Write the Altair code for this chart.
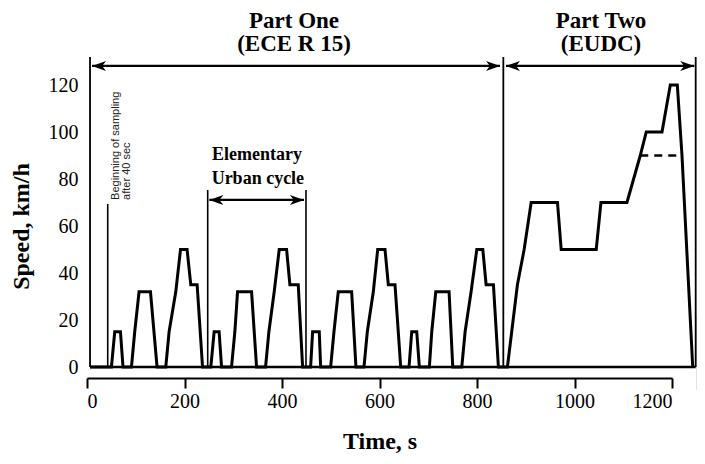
import altair as alt
import pandas as pd

# ---- main speed trace (time in s, speed in km/h) ----
time_s = [6.2, 50.1, 56.9, 68.6, 73.9, 91.2, 97.9, 106.8, 130.2, 143.7, 161.6, 168.4, 182.1, 191.8, 205.3, 212.9, 225.9, 237.0,
          254.0, 260.8, 271.0, 276.0, 296.5, 303.3, 308.8, 337.6, 347.8, 366.3, 373.1, 384.0, 394.3, 409.4, 416.2, 433.3, 442.3,
          458.7, 462.8, 476.4, 479.3, 499.8, 506.6, 515.4, 542.9, 551.7, 568.2, 575.0, 587.3, 596.3, 611.3, 618.1, 631.8, 643.5,
          660.6, 666.1, 676.4, 681.7, 702.3, 707.2, 715.4, 742.7, 750.3, 768.8, 775.6, 787.9, 799.6, 811.9, 818.7, 833.7, 843.9,
          862.4, 882.9, 896.7, 911.1, 965.1, 972.7, 1044.6, 1054.2, 1107.6, 1134.9, 1147.2, 1179.5, 1196.5, 1210.9, 1220.5, 1242.5]
speed_kmh = [0, 0, 15, 15, 0, 0, 15, 32, 32, 0, 0, 15, 32, 50, 50, 35, 35, 0,
             0, 15, 15, 0, 0, 15, 32, 32, 0, 0, 15, 32, 50, 50, 35, 35, 0,
             0, 15, 15, 0, 0, 15, 32, 32, 0, 0, 15, 32, 50, 50, 35, 35, 0,
             0, 15, 15, 0, 0, 15, 32, 32, 0, 0, 15, 32, 50, 50, 35, 35, 0,
             0, 35, 50, 70, 70, 50, 50, 70, 70, 90, 100, 100, 120, 120, 90, 0]

# dashed 90 km/h variant
dash_time = [1134.9, 1220.5]
dash_speed = [90, 90]

# vertical marker lines
vline_time = [6.2, 42.5, 247.6, 449.2, 854.0, 1248.6]
vline_top = [131.9, 69.4, 75.3, 75.3, 131.9, 131.9]
vline_width = [1.8, 1.6, 1.6, 1.6, 1.8, 1.8]

# baseline
base_start = [6.2]
base_end = [1248.6]
base_level = [0]

# double-headed arrows
arrow_start = [10.3, 859.5, 250.9]
arrow_end = [847.2, 1245.7, 445.1]
arrow_level = [128.1, 128.1, 71.1]

# bold annotation texts
head_text = ["Part One", "(ECE R 15)", "Part Two", "(EUDC)"]
head_time = [424.6, 424.6, 1054.4, 1054.4]
head_level = [147.2, 137.4, 147.2, 137.4]

elem_text = ["Elementary", "Urban cycle"]
elem_time = [348.7, 350.5]
elem_level = [90.2, 80.2]

begin_text = ["Beginning of sampling", "after 40 sec"]
begin_time = [59.5, 82.0]
begin_level = [71.1, 71.1]

# cut-off box at the right edge
box_t1 = [1252.7]
box_t2 = [1330.0]
box_v1 = [-9.5]
box_v2 = [21.4]

SERIF = "Liberation Serif"
W, H = 585, 282

xs = alt.Scale(domain=[0, 1200], nice=False, zero=False)
ys = alt.Scale(domain=[0, 120], nice=False, zero=False)
xaxis = alt.Axis(values=[0, 200, 400, 600, 800, 1000, 1200], format="d", offset=11, tickSize=10, tickWidth=2,
                 tickColor="black", domainWidth=2, domainColor="black", labelFont=SERIF,
                 labelFontSize=20, labelColor="black", labelPadding=3, grid=False,
                 title="Time, s", titleFont=SERIF, titleFontSize=24, titleFontWeight="bold",
                 titleColor="black", titlePadding=18)
yaxis = alt.Axis(values=[0, 20, 40, 60, 80, 100, 120], domain=False, ticks=False, tickSize=0,
                 labelPadding=9, labelFont=SERIF, labelFontSize=20, labelColor="black", grid=False,
                 title="Speed, km/h", titleFont=SERIF, titleFontSize=24, titleFontWeight="bold",
                 titleColor="black", titlePadding=15)


def X(f):
    return alt.X(f, type="quantitative", scale=xs, axis=xaxis)


def Y(f):
    return alt.Y(f, type="quantitative", scale=ys, axis=yaxis)


main_df = pd.DataFrame({"t": time_s, "v": speed_kmh})
main = alt.Chart(main_df).mark_line(color="black", strokeWidth=3, strokeJoin="miter", clip=False).encode(
    x=X("t"), y=Y("v"))

dash_df = pd.DataFrame({"t": dash_time, "v": dash_speed})
dash = alt.Chart(dash_df).mark_line(color="black", strokeWidth=2.6, strokeDash=[8, 6]).encode(
    x=X("t"), y=Y("v"))

vl_df = pd.DataFrame({"t": vline_time, "v": [0] * len(vline_time), "v2": vline_top, "w": vline_width})
vlines = alt.Chart(vl_df).mark_rule(color="black").encode(
    x=X("t"), y=Y("v"), y2=alt.Y2("v2"), strokeWidth=alt.StrokeWidth("w:Q", scale=None))

base_df = pd.DataFrame({"t": base_start, "t2": base_end, "v": base_level})
base = alt.Chart(base_df).mark_rule(color="black", strokeWidth=2.6).encode(
    x=X("t"), x2=alt.X2("t2"), y=Y("v"))

ar_df = pd.DataFrame({"t": arrow_start, "t2": arrow_end, "v": arrow_level})
shafts = alt.Chart(ar_df).mark_rule(color="black", strokeWidth=2.2).encode(
    x=X("t"), x2=alt.X2("t2"), y=Y("v"))

RIGHT_HEAD = "M0,0L-2,-0.72L-1.45,0L-2,0.72Z"
LEFT_HEAD = "M0,0L2,-0.72L1.45,0L2,0.72Z"
rheads = alt.Chart(pd.DataFrame({"t": arrow_end, "v": arrow_level})).mark_point(
    shape=RIGHT_HEAD, filled=True, color="black", opacity=1, size=196, strokeWidth=0).encode(
    x=X("t"), y=Y("v"))
lheads = alt.Chart(pd.DataFrame({"t": arrow_start, "v": arrow_level})).mark_point(
    shape=LEFT_HEAD, filled=True, color="black", opacity=1, size=196, strokeWidth=0).encode(
    x=X("t"), y=Y("v"))

heads_txt = alt.Chart(pd.DataFrame({"t": head_time, "v": head_level, "s": head_text})).mark_text(
    font=SERIF, fontSize=23, fontWeight="bold", color="black", align="center", baseline="middle").encode(
    x=X("t"), y=Y("v"), text="s:N")

elem_txt = alt.Chart(pd.DataFrame({"t": elem_time, "v": elem_level, "s": elem_text})).mark_text(
    font=SERIF, fontSize=18, fontWeight="bold", color="black", align="center", baseline="middle").encode(
    x=X("t"), y=Y("v"), text="s:N")

begin_txt = alt.Chart(pd.DataFrame({"t": begin_time, "v": begin_level, "s": begin_text})).mark_text(
    font="Liberation Sans", fontSize=11, color="#222222", align="left", baseline="middle", angle=270).encode(
    x=X("t"), y=Y("v"), text="s:N")

box = alt.Chart(pd.DataFrame({"t": box_t1, "t2": box_t2, "v": box_v1, "v2": box_v2})).mark_rect(
    fill="white", fillOpacity=0, stroke="black", strokeWidth=1.6, clip=False).encode(
    x=X("t"), x2=alt.X2("t2"), y=Y("v"), y2=alt.Y2("v2"))

chart = alt.layer(vlines, base, shafts, rheads, lheads, dash, main, box, heads_txt, elem_txt, begin_txt).properties(
    width=W, height=H,
    background="white",
    padding={"left": 79, "top": 77, "right": 25, "bottom": 89},
    autosize=alt.AutoSizeParams(type="none"),
).configure_view(stroke=None)

chart.save("out.html", embed_options={"renderer": "svg", "actions": False})
